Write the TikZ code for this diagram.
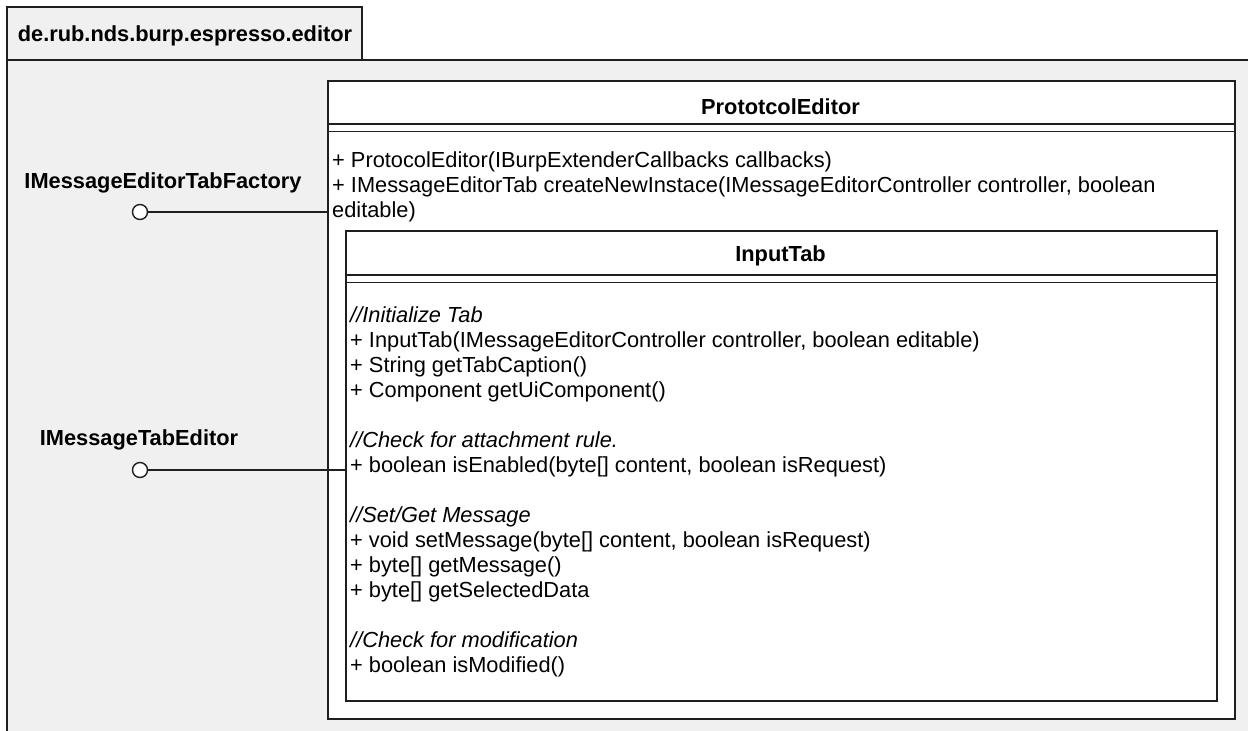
\documentclass[tikz,border=0pt]{standalone}
\usepackage{fontspec}
\setmainfont{Liberation Sans}
\usetikzlibrary{positioning}
\colorlet{package area}{gray!12}
\colorlet{box edge}{black!88}
\newcommand{\umlfont}{\fontsize{21.8}{25}\selectfont}
\tikzset{classbox/.style={draw=box edge, fill=white, line width=1.6pt, inner sep=0pt},
    classline/.style={draw=box edge, line width=1.6pt},
    lolly/.style={circle, draw=box edge, fill=white, line width=1.4pt, minimum size=15pt, inner sep=0pt},
    wire/.style={draw=box edge, line width=1.4pt},
    members/.style={anchor=base west, align=left, inner sep=0pt, font=\umlfont},
    title/.style={anchor=base, inner sep=0pt, font=\umlfont\bfseries}}

\begin{document}
\begin{tikzpicture}[x=1pt,y=-1pt]
\useasboundingbox (0,0) rectangle (1248,731);
% package frame
\fill[package area] (7,60) rectangle (1248,731);
\draw[classline, line width=1.4pt] (1248,60) -- (7,60) -- (7,731);
\draw[classline, line width=1.4pt, fill=package area] (7,7) rectangle (362,60);
\node[title] (pkgname) at (185,41) {de.rub.nds.burp.espresso.editor};

% outer class
\node[classbox, minimum width=907pt, minimum height=638pt, anchor=north west] (editor) at (327,80) {};
\node[title] (editorname) at (780.5,114.5) {PrototcolEditor};
\draw[classline] (327,124) -- (1234,124) (327,131.5) -- (1234,131.5);
% base = baseline of the last line
\node[members] (editorops) at (332,217) {+ ProtocolEditor(IBurpExtenderCallbacks callbacks)\\%
+ IMessageEditorTab createNewInstace(IMessageEditorController controller, boolean\\%
editable)};

% inner class
\node[classbox, minimum width=871pt, minimum height=470pt, anchor=north west] (inputtab) at (345,230) {};
\node[title] (inputtabname) at (780.5,261.5) {InputTab};
\draw[classline] (345,275) -- (1216,275) (345,282.5) -- (1216,282.5);
\node[members] (inputtabops) at (350,672) {\textit{//Initialize Tab}\\%
+ InputTab(IMessageEditorController controller, boolean editable)\\%
+ String getTabCaption()\\%
+ Component getUiComponent()\\[25pt]%
\textit{//Check for attachment rule.}\\%
+ boolean isEnabled(byte[] content, boolean isRequest)\\[25pt]%
\textit{//Set/Get Message}\\%
+ void setMessage(byte[] content, boolean isRequest)\\%
+ byte[] getMessage()\\%
+ byte[] getSelectedData\\[25pt]%
\textit{//Check for modification}\\%
+ boolean isModified()};

% provided interfaces
\node[title] (factoryname) at (163,188) {IMessageEditorTabFactory};
\node[lolly] (factory) at (140,212) {};
\draw[wire] (factory) -- (factory -| editor.west);
\node[title] (tabeditorname) at (139,445) {IMessageTabEditor};
\node[lolly] (tabeditor) at (140,470) {};
\draw[wire] (tabeditor) -- (tabeditor -| inputtab.west);
\end{tikzpicture}
\end{document}
